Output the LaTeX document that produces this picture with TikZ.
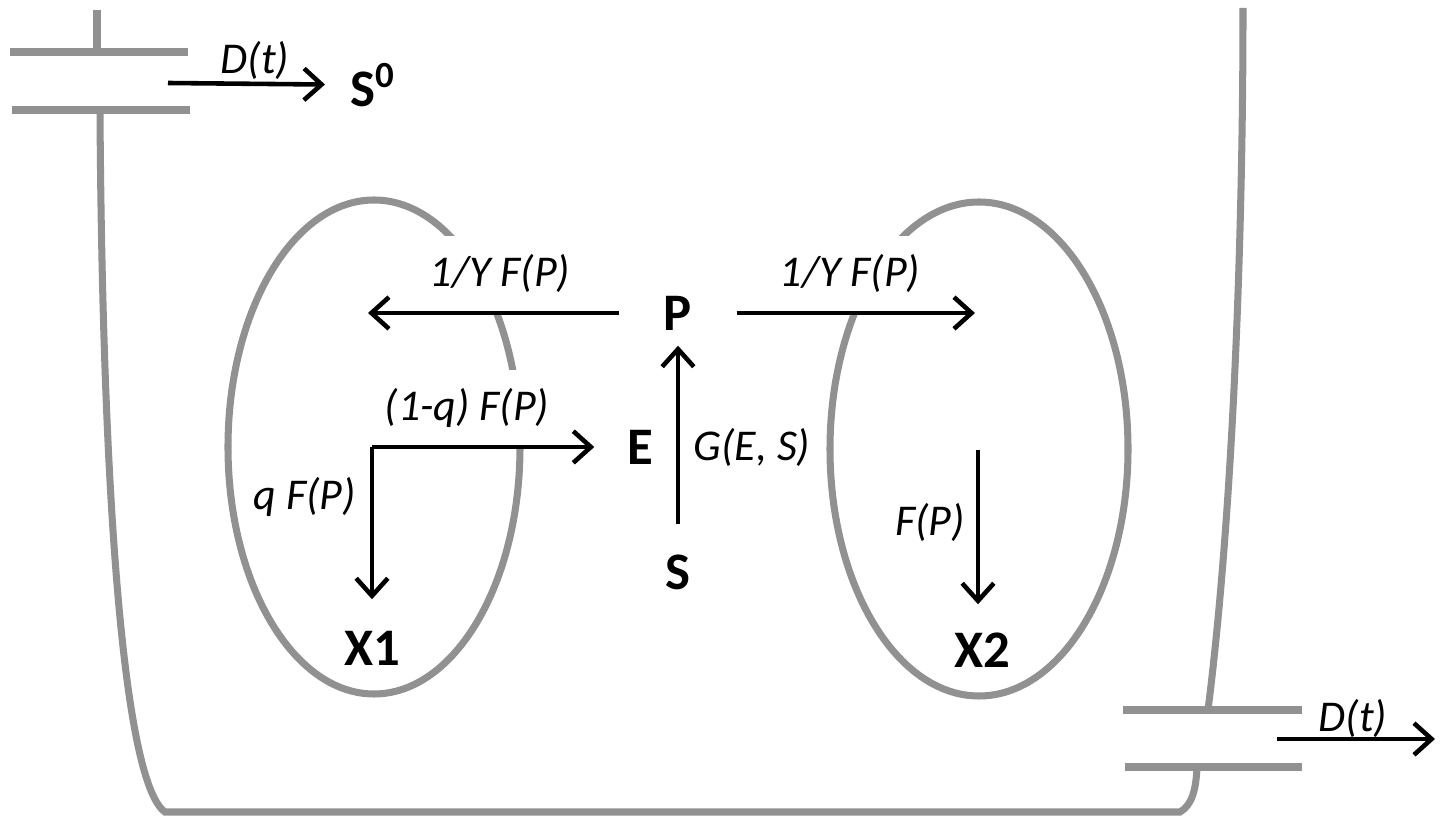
\documentclass[tikz,border=0pt]{standalone}
\usepackage{fontspec}
\setmainfont{Carlito}
\usetikzlibrary{arrows.meta}
\definecolor{wallgray}{RGB}{145,145,145}
\tikzset{
  wall/.style={draw=wallgray, line width=2pt},
  flow/.style={draw=black, line width=1.3pt, -{Straight Barb[length=5pt,width=9pt]}},
  species/.style={font=\fontsize{15}{18}\selectfont\bfseries, inner sep=0pt},
  rate/.style={font=\fontsize{12.5}{15}\selectfont\itshape, inner sep=0pt},
  ratebox/.style={rate, fill=white, inner xsep=2pt, anchor=south, minimum height=0.75cm}
}
\begin{document}
\begin{tikzpicture}[x=0.01cm, y=-0.01cm]
  \useasboundingbox (0,0) rectangle (1445,822);

  % tank with inlet and outlet
  \draw[wall] (97,10) -- (97,52);
  \draw[wall] (10,52) -- (188,52);
  \draw[wall] (12,110) -- (190,110);
  \draw[wall] (100,110) .. controls (102,450) and (120,780) .. (165,812)
    -- (1180,812) .. controls (1192,805) and (1196,790) .. (1197,767);
  \draw[wall] (1123,710) -- (1302,710);
  \draw[wall] (1125,767) -- (1302,767);
  \draw[wall] (1208,710) .. controls (1232,520) and (1243,250) .. (1243,8);

  % the two cells
  \draw[wall] (374,447) ellipse [x radius=146, y radius=247];
  \draw[wall] (979,449) ellipse [x radius=149, y radius=247];

  % rates
  \node[rate] (dfeed) at (255,60) {D(t)};
  \node[ratebox] (yleft) at (500,312) {1/Y F(P)};
  \node[ratebox] (yright) at (850,312) {1/Y F(P)};
  \node[ratebox] (oneq) at (467,446) {(1-q) F(P)};
  \node[rate] (qrate) at (305,497) {q F(P)};
  \node[rate] (grate) at (752,447) {G(E, S)};
  \node[rate] (frate) at (930,522) {F(P)};
  \node[rate] (dout) at (1353,718) {D(t)};

  % species
  \node[species] (S0) at (373,85) {S\textsuperscript{0}};
  \node[species, minimum width=1.16cm, minimum height=0.64cm] (P) at (678,313) {P};
  \node[species, minimum width=0.9cm] (E) at (640,447) {E};
  \node[species, minimum height=0.94cm] (S) at (678,572) {S};
  \node[species, minimum height=0.96cm] (X1) at (372,648) {X1};
  \node[species, minimum height=0.9cm] (X2) at (982,650) {X2};

  \coordinate (feed) at (168,83);
  \coordinate (outleft) at (368,313);
  \coordinate (outright) at (975,313);
  \coordinate (split) at (372,447);
  \coordinate (x2top) at (978,450);
  \coordinate (drain) at (1277,739);
  \coordinate (drainend) at (1435,739);

  % fluxes
  \draw[flow, shorten >=7pt] (feed) -- (S0);
  \draw[flow] (P) -- (outleft);
  \draw[flow] (P) -- (outright);
  \draw[flow] (S) -- (P);
  \draw[flow] (split) -- (E);
  \draw[flow] (split) -- (X1);
  \draw[flow] (x2top) -- (x2top |- X2.north);
  \draw[flow] (drain) -- (drainend);
\end{tikzpicture}
\end{document}
